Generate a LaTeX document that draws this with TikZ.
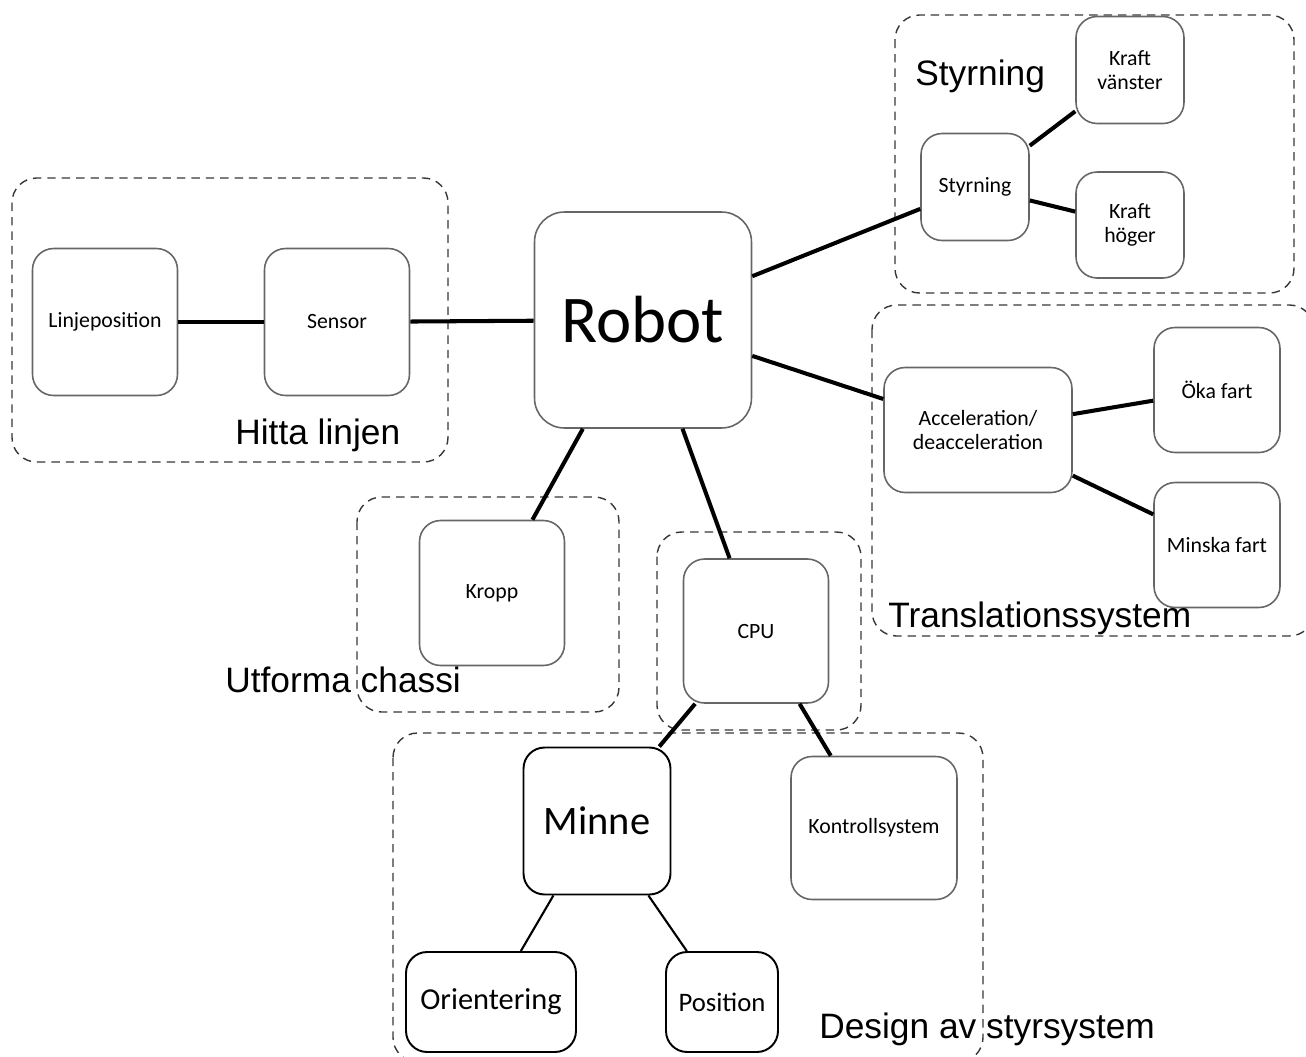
\documentclass[tikz,border=0pt]{standalone}
\usepackage{fontspec}
\setmainfont{Carlito}
\newfontfamily\grpfont{Liberation Sans}
\usetikzlibrary{positioning}
\tikzstyle{box} = [rectangle, rounded corners=12pt, draw=black!60, line width=0.9pt, fill=white, align=center, inner sep=0pt, font=\fontsize{12.4}{13.6}\selectfont]
\tikzstyle{darkbox} = [box, draw=black, line width=1.1pt]
\tikzstyle{group} = [draw=black!78, line width=0.8pt, dash pattern=on 4.8pt off 3.4pt, rounded corners=14pt]
\tikzstyle{grplabel} = [anchor=base west, inner sep=0pt, font=\grpfont\fontsize{20.1}{22}\selectfont]
\tikzstyle{link} = [line width=2.3pt]
\tikzstyle{thinlink} = [line width=1.2pt]

\begin{document}
\begin{tikzpicture}[x=0.02cm, y=-0.02cm]
    \useasboundingbox (0,0) rectangle (1306,1056);

    % dashed groups
    \draw[group] (12,178) rectangle (448,462);
    \draw[group] (895,15) rectangle (1294,293);
    \draw[group] (872,305) rectangle (1314,636);
    \draw[group] (357,497) rectangle (619,712);
    \draw[group] (657,532) rectangle (861,730);
    \draw[group] (393,733) rectangle (983,1062);

    \node (robot) [box, rounded corners=17pt, minimum width=4.34cm, minimum height=4.32cm, font=\fontsize{38}{40}\selectfont] at (643,320) {Robot};
    \node (linjepos) [box, minimum width=2.9cm, minimum height=2.94cm] at (105,322) {Linjeposition};
    \node (sensor) [box, minimum width=2.9cm, minimum height=2.94cm] at (337,322) {Sensor};
    \node (styr) [box, minimum width=2.16cm, minimum height=2.14cm] at (975,187) {Styrning};
    \node (kraftV) [box, minimum width=2.16cm, minimum height=2.14cm] at (1130,70) {Kraft\\vänster};
    \node (kraftH) [box, minimum width=2.16cm, minimum height=2.12cm] at (1130,225) {Kraft\\höger};
    \node (accel) [box, minimum width=3.76cm, minimum height=2.5cm] at (978,430) {Acceleration/\\deacceleration};
    \node (oka) [box, minimum width=2.52cm, minimum height=2.5cm] at (1217,390) {Öka fart};
    \node (minska) [box, minimum width=2.52cm, minimum height=2.5cm] at (1217,545) {Minska fart};
    \node (kropp) [box, minimum width=2.9cm, minimum height=2.9cm] at (492,593) {Kropp};
    \node (cpu) [box, minimum width=2.9cm, minimum height=2.88cm] at (756,631) {CPU};
    \node (minne) [darkbox, minimum width=2.94cm, minimum height=2.94cm, font=\fontsize{23}{25}\selectfont] at (597,821) {Minne};
    \node (kontroll) [box, minimum width=3.32cm, minimum height=2.86cm] at (874,828) {Kontrollsystem};
    \node (orient) [darkbox, minimum width=3.4cm, minimum height=2cm, font=\fontsize{17.3}{19}\selectfont] at (491,1002) {Orientering};
    \node (posit) [darkbox, minimum width=2.24cm, minimum height=2cm, font=\fontsize{15.2}{17}\selectfont] at (722,1002) {Position};

    \node (lblHitta) [grplabel] at (235,444) {Hitta linjen};
    \node (lblStyr) [grplabel] at (915,85) {Styrning};
    \node (lblTrans) [grplabel] at (888,627) {Translationssystem};
    \node (lblChassi) [grplabel] at (225,692) {Utforma chassi};
    \node (lblDesign) [grplabel] at (819,1038) {Design av styrsystem};

    \draw[link] (linjepos) -- (sensor);
    \draw[link] (sensor) -- (robot);
    \draw[link] (robot) -- (styr);
    \draw[link] (robot) -- (accel);
    \draw[link] (robot) -- (kropp);
    \draw[link] (robot) -- (cpu);
    \draw[link] (styr) -- (kraftV);
    \draw[link] (styr) -- (kraftH);
    \draw[link] (accel) -- (oka);
    \draw[link] (accel) -- (minska);
    \draw[link] (cpu) -- (minne);
    \draw[link] (cpu) -- (kontroll);
    \draw[thinlink] (minne) -- (orient);
    \draw[thinlink] (minne) -- (posit);
\end{tikzpicture}
\end{document}
